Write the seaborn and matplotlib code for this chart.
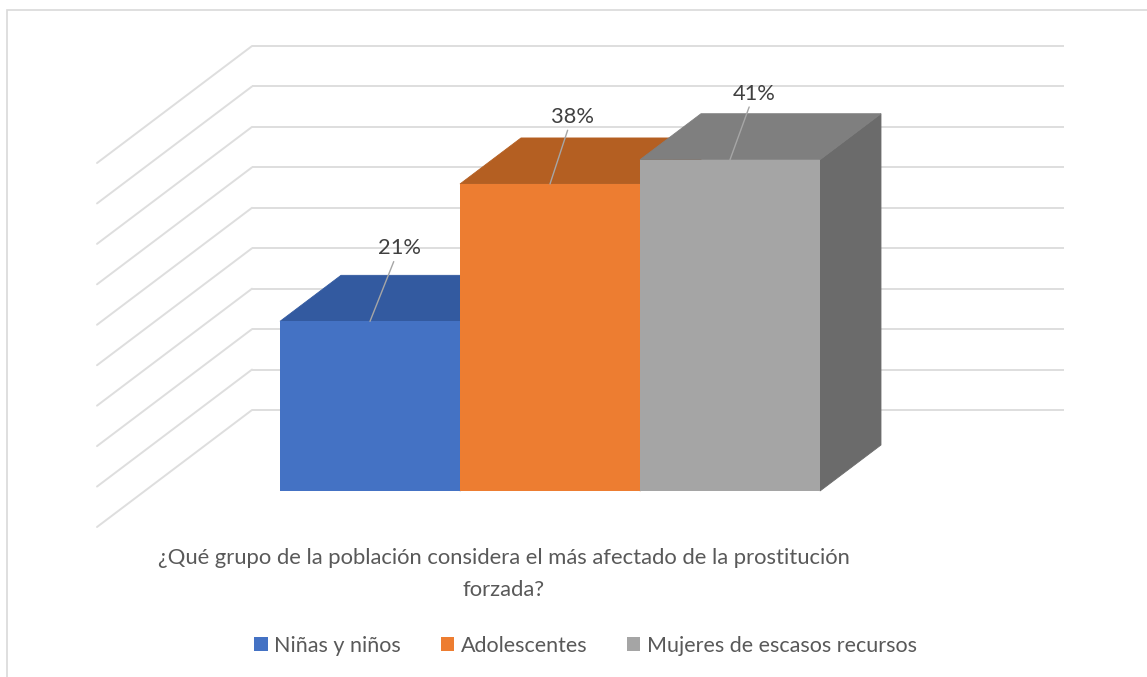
import numpy as np
import pandas as pd
import matplotlib
matplotlib.use("Agg")
import matplotlib.pyplot as plt
import seaborn as sns
from matplotlib.patches import Polygon, Rectangle
from matplotlib.lines import Line2D

# ---------------- data ----------------
categories = ["Niñas y niños", "Adolescentes", "Mujeres de escasos recursos"]
values = [21, 38, 41]
value_labels = ["21%", "38%", "41%"]
title_line1 = "¿Qué grupo de la población considera el más afectado de la prostitución"
title_line2 = "forzada?"
grid_ticks = [0, 5, 10, 15, 20, 25, 30, 35, 40, 45]

# ---------------- styles ----------------
front_colors = ["#4472C4", "#ED7D31", "#A5A5A5"]
top_colors = ["#335AA0", "#B45F22", "#7F7F7F"]
side_colors = ["#2F5597", "#AE5A21", "#6B6B6B"]
grid_color = "#dedede"
text_color = "#595959"
label_color = "#404040"
leader_color = "#a6a6a6"

W, H, DPI = 1147, 677, 100
sns.set_theme(style="white")
plt.rcParams["font.family"] = ["Lato", "DejaVu Sans"]

fig = plt.figure(figsize=(W / DPI, H / DPI), dpi=DPI)
fig.patch.set_facecolor("white")


def px_axes(left, top, right, bottom):
    return [left / W, 1 - bottom / H, (right - left) / W, (bottom - top) / H]


XLIM_BACK = (-1.245, 3.245)
XLIM = (-1.2556, 3.2556)
YLIM = (0, 45)

# back wall (farther plane)
ax_back = fig.add_axes(px_axes(252, 46, 1064, 410))
# front plane, where bar faces live
ax_front = fig.add_axes(px_axes(144, 127.4, 956, 491))

for ax, xl in ((ax_back, XLIM_BACK), (ax_front, XLIM)):
    ax.set_xlim(*xl)
    ax.set_ylim(*YLIM)
    ax.patch.set_visible(False)
    for s in ax.spines.values():
        s.set_visible(False)
    ax.set_xticks([])
    ax.set_yticks([])

ax_back.hlines(grid_ticks, XLIM_BACK[0], XLIM_BACK[1], color=grid_color, lw=1.4,
               clip_on=False, zorder=1)

# side wall diagonals
fig.canvas.draw()
inv_fig = fig.transFigure.inverted()
for y in grid_ticks:
    p0 = ax_back.transData.transform((XLIM_BACK[0], y))
    p1 = p0 + np.array([-155, -117])
    f0 = inv_fig.transform(p0)
    f1 = inv_fig.transform(p1)
    fig.add_artist(Line2D([f0[0], f1[0]], [f0[1], f1[1]], color=grid_color,
                          lw=1.4, transform=fig.transFigure, zorder=1))

# bars (front faces)
df = pd.DataFrame({"grupo": categories, "valor": values})
sns.barplot(data=df, x="grupo", y="valor", hue="grupo", palette=front_colors,
            width=1, saturation=1, linewidth=0, ax=ax_front, legend=True,
            zorder=3)
ax_front.set_xlim(*XLIM)
ax_front.set_ylim(*YLIM)
ax_front.set_xlabel("")
ax_front.set_ylabel("")
ax_front.set_xticks([])
ax_front.set_yticks([])

# depth offset (pixels) converted to data units
fig.canvas.draw()
o = ax_front.transData.transform((0, 0))
d = ax_front.transData.inverted().transform(o + np.array([61, 46]))
ddx, ddy = d[0], d[1]

bars = sorted([p for p in ax_front.patches if p.get_height() > 0],
              key=lambda p: p.get_x())
for i, p in enumerate(bars):
    x0 = p.get_x()
    x1 = x0 + p.get_width()
    h = p.get_height()
    side = Polygon([(x1, 0), (x1 + ddx, ddy), (x1 + ddx, h + ddy), (x1, h)],
                   closed=True, facecolor=side_colors[i], edgecolor=side_colors[i],
                   lw=0.6, zorder=2, clip_on=False)
    top = Polygon([(x0, h), (x1, h), (x1 + ddx, h + ddy), (x0 + ddx, h + ddy)],
                  closed=True, facecolor=top_colors[i], edgecolor=top_colors[i],
                  lw=0.6, zorder=2, clip_on=False)
    ax_front.add_patch(side)
    ax_front.add_patch(top)
    p.set_clip_on(False)

renderer = fig.canvas.get_renderer()


def fit_size(text, target_px, base=14):
    t = fig.text(0, 0, text, fontsize=base)
    w = t.get_window_extent(renderer).width
    t.remove()
    return base * target_px / w


label_fs = fit_size("21%", 43)
title_fs = fit_size(title_line1, 698)
legend_fs = fit_size("Niñas y niños", 127)

label_offsets = [(29, 73), (22, 67), (24, 66)]
for i, p in enumerate(bars):
    cx = p.get_x() + p.get_width() / 2
    h = p.get_height()
    ax_front.annotate(value_labels[i], xy=(cx, h), xytext=label_offsets[i],
                      textcoords="offset pixels", ha="center", va="center",
                      fontsize=label_fs, color=label_color, zorder=5,
                      annotation_clip=False,
                      arrowprops=dict(arrowstyle="-", color=leader_color, lw=1.0,
                                      shrinkA=0, shrinkB=0))

# title (below the plot)
fig.text(504 / W, 1 - 558 / H, title_line1, ha="center", va="center",
         fontsize=title_fs, color=text_color)
fig.text(504 / W, 1 - 590 / H, title_line2, ha="center", va="center",
         fontsize=title_fs, color=text_color)

# legend
sns.move_legend(ax_front, "center", bbox_to_anchor=(585.5 / W, 1 - 646 / H),
                bbox_transform=fig.transFigure, ncol=3, frameon=False, title=None,
                fontsize=legend_fs, handlelength=0.62, handleheight=0.62,
                handletextpad=0.3, columnspacing=1.85, labelcolor=text_color)

# outer chart border
fig.add_artist(Rectangle((7 / W, -0.1), 1.2, (H - 10) / H + 0.1,
                         transform=fig.transFigure, fill=False,
                         edgecolor="#d9d9d9", lw=1.2))

fig.savefig("out.png", dpi=DPI)
